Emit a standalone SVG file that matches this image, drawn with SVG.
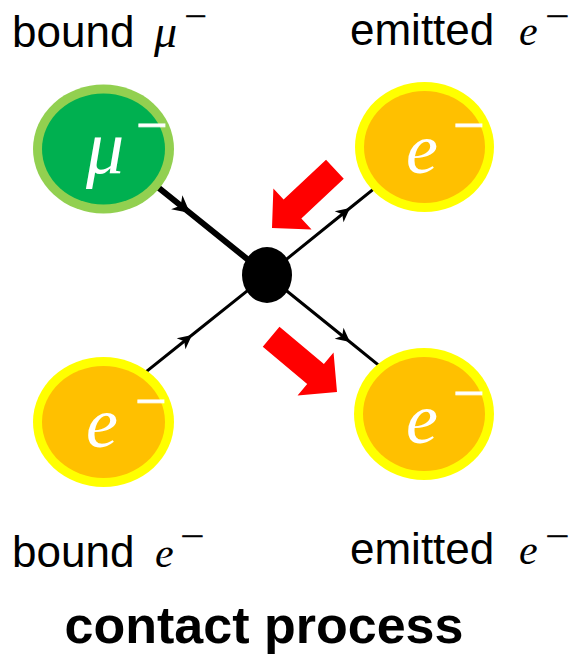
<svg xmlns="http://www.w3.org/2000/svg" width="573" height="656" viewBox="0 0 573 656">
  <style>
    .lbl { font-family: "Liberation Sans", Arial, sans-serif; font-size: 44px; fill: #000; }
    .math { font-family: "Liberation Serif", "Times New Roman", serif; font-style: italic; }
    .sym { font-family: "Liberation Serif", "Times New Roman", serif; font-style: italic; fill: #fff; }
    .minus { font-family: "Liberation Serif", "Times New Roman", serif; }
    .sup { font-family: "Liberation Serif", "Times New Roman", serif; font-size: 26px; fill: #000; stroke: #000; stroke-width: 0.7; }
    .title { font-family: "Liberation Sans", Arial, sans-serif; font-weight: bold; font-size: 52px; fill: #000; }
    .line { fill: none; stroke: #000; stroke-width: 3; marker-mid: url(#tip); }
    .line.thick { stroke-width: 6; marker-mid: url(#tipBig); }
    .mu-ring { fill: #92D050; }
    .mu-core { fill: #00B050; }
    .e-ring { fill: #FFFF00; }
    .e-core { fill: #FFC000; }
    .flow { fill: #FF0000; }
  </style>
  <defs>
    <marker id="tip" markerUnits="userSpaceOnUse" markerWidth="30" markerHeight="30" refX="20" refY="10" orient="auto" overflow="visible">
      <path d="M20 10 L6 3 L10 10 L6 17 Z" fill="#000"/>
    </marker>
    <marker id="tipBig" markerUnits="userSpaceOnUse" markerWidth="30" markerHeight="30" refX="20" refY="10" orient="auto" overflow="visible">
      <path d="M20 10 L3 1 L8 10 L3 19 Z" fill="#000"/>
    </marker>
    <path id="bigArrow" d="M0 0 L-28 -28 L-28 -13 L-86 -13 L-86 13 L-28 13 L-28 28 Z"/>
  </defs>

  <rect width="573" height="656" fill="#fff"/>

  <!-- propagator lines meeting at the contact vertex -->
  <g id="connectors">
    <polyline class="line thick" points="150,180.8 190,213 267,275"/>
    <polyline class="line" points="140,376.6 192,335 267,275"/>
    <polyline class="line" points="267,275 350,208 380,183.8"/>
    <polyline class="line" points="267,275 350,342 385,370.3"/>
  </g>

  <g id="vertex">
    <ellipse cx="267" cy="275" rx="25" ry="28" fill="#000"/>
  </g>

  <!-- bound muon -->
  <g id="muon">
    <ellipse class="mu-ring" cx="103.5" cy="149" rx="70.5" ry="64.5"/>
    <ellipse class="mu-core" cx="103.5" cy="149" rx="61.5" ry="55.5"/>
    <text class="sym" x="86" y="173" font-size="76">μ</text>
    <text class="minus" x="136" y="144" font-size="56" fill="#fff" stroke="#fff" stroke-width="0.8">−</text>
  </g>

  <!-- emitted electron, upper -->
  <g id="electron-out-top">
    <ellipse class="e-ring" cx="424.5" cy="147" rx="69.5" ry="65"/>
    <ellipse class="e-core" cx="424.5" cy="147" rx="60.5" ry="56"/>
    <text class="sym" x="406" y="173" font-size="72">e</text>
    <text class="minus" x="453" y="144" font-size="56" fill="#fff" stroke="#fff" stroke-width="0.8">−</text>
  </g>

  <!-- bound electron -->
  <g id="electron-in">
    <ellipse class="e-ring" cx="103.5" cy="422" rx="70.5" ry="65"/>
    <ellipse class="e-core" cx="103.5" cy="422" rx="61.5" ry="56"/>
    <text class="sym" x="86" y="447" font-size="72">e</text>
    <text class="minus" x="135" y="420" font-size="56" fill="#fff" stroke="#fff" stroke-width="0.8">−</text>
  </g>

  <!-- emitted electron, lower -->
  <g id="electron-out-bottom">
    <ellipse class="e-ring" cx="424" cy="414" rx="70" ry="66"/>
    <ellipse class="e-core" cx="424" cy="414" rx="61" ry="57"/>
    <text class="sym" x="406" y="443" font-size="72">e</text>
    <text class="minus" x="453" y="412" font-size="56" fill="#fff" stroke="#fff" stroke-width="0.8">−</text>
  </g>

  <!-- emission direction arrows -->
  <g id="flow-arrows">
    <use href="#bigArrow" class="flow" transform="translate(272,228) rotate(137)"/>
    <use href="#bigArrow" class="flow" transform="translate(337,392) rotate(40)"/>
  </g>

  <!-- particle labels -->
  <g id="labels">
    <text class="lbl" x="12" y="47" font-size="45">bound</text>
    <text class="math" x="154" y="47" font-size="46">μ</text>
    <text class="sup" transform="translate(185,25) scale(1.5,1)">−</text>

    <text class="lbl" x="350" y="45">emitted</text>
    <text class="math" x="519" y="45" font-size="42">e</text>
    <text class="sup" transform="translate(546,25) scale(1.6,1)">−</text>

    <text class="lbl" x="12" y="567" font-size="45">bound</text>
    <text class="math" x="155" y="567" font-size="42">e</text>
    <text class="sup" transform="translate(181,545) scale(1.6,1)">−</text>

    <text class="lbl" x="350" y="564">emitted</text>
    <text class="math" x="519" y="564" font-size="42">e</text>
    <text class="sup" transform="translate(546,545) scale(1.6,1)">−</text>
  </g>

  <text class="title" x="264" y="643" text-anchor="middle">contact process</text>
</svg>
